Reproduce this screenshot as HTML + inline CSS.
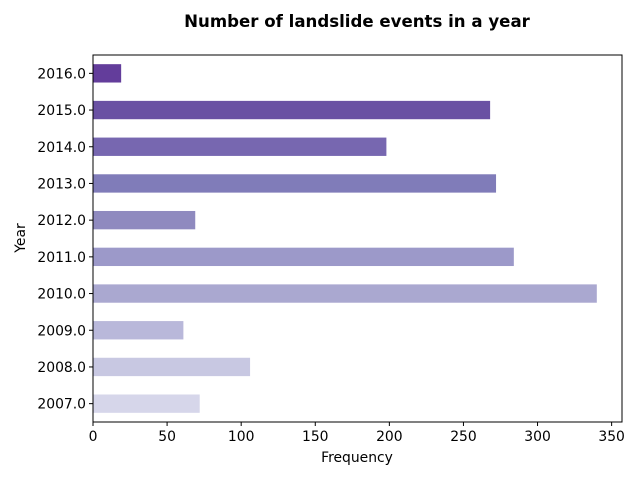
<!DOCTYPE html>
<html><head><meta charset="utf-8"><style>
body{margin:0;background:#fff;font-family:"DejaVu Sans","Liberation Sans",sans-serif}
</style></head><body>
<svg id="chart" width="640" height="480" xmlns="http://www.w3.org/2000/svg" font-family="DejaVu Sans, Liberation Sans, sans-serif">
<text x="357" y="27" text-anchor="middle" font-size="16.6" font-weight="bold">Number of landslide events in a year</text>
<g id="bars"></g>
<g id="axes"></g>
<rect x="93" y="55" width="529" height="367" fill="none" stroke="#000" stroke-width="1"/>
<text x="357" y="462" text-anchor="middle" font-size="13.9">Frequency</text>
<text x="25" y="238" text-anchor="middle" font-size="13.9" transform="rotate(-90 25 238)">Year</text>
</svg>
<script>
const categories = ["2007.0","2008.0","2009.0","2010.0","2011.0","2012.0","2013.0","2014.0","2015.0","2016.0"];
const values = [72,106,61,340,284,69,272,198,268,19];
const xTicks = [0,50,100,150,200,250,300,350];
const colors = ["#d6d6ea","#c8c8e2","#b9b8da","#aaa8d0","#9c99c9","#8f8abf","#807cb9","#7767b0","#6a51a3","#633d9b"];
const NS="http://www.w3.org/2000/svg";
const L=93,R=622,T=55,B=422,XMAX=357;
const x=v=>L+v/XMAX*(R-L);
const step=(B-T)/categories.length;
const y=i=>B-(i+0.5)*step;
const bars=document.getElementById('bars'), axes=document.getElementById('axes');
function mk(t,a){const e=document.createElementNS(NS,t);for(const k in a)e.setAttribute(k,a[k]);return e;}
categories.forEach((c,i)=>{
  const r=mk('rect',{x:L,y:y(i)-step/4,width:x(values[i])-L,height:step/2,fill:colors[i]});
  
  
  bars.appendChild(r);
  const tk=mk('line',{x1:L-4,x2:L,y1:y(i),y2:y(i),stroke:'#000'});
  
  
  axes.appendChild(tk);
  const lb=mk('text',{x:L-7,y:y(i)+5,'text-anchor':'end','font-size':'13.9'});
  lb.textContent=c;
  
  
  axes.appendChild(lb);
});
xTicks.forEach(v=>{
  const tk=mk('line',{x1:x(v),x2:x(v),y1:B,y2:B+4,stroke:'#000'});
  
  
  axes.appendChild(tk);
  const lb=mk('text',{x:x(v),y:B+19,'text-anchor':'middle','font-size':'13.9'});
  lb.textContent=v;
  
  
  axes.appendChild(lb);
});
</script>
</body></html>
